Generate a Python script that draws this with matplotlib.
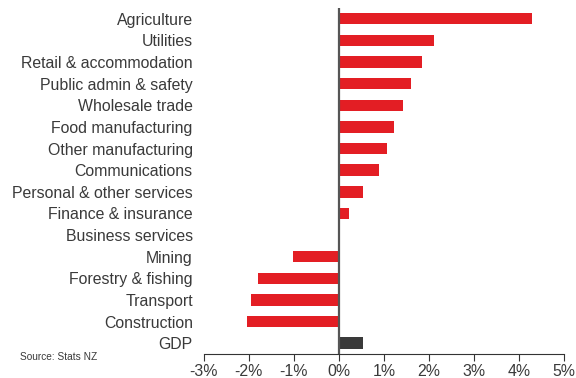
import matplotlib.pyplot as plt

# Data (annual % change by industry)
industries = ['Agriculture', 'Utilities', 'Retail & accommodation',
              'Public admin & safety', 'Wholesale trade', 'Food manufacturing',
              'Other manufacturing', 'Communications', 'Personal & other services',
              'Finance & insurance', 'Business services', 'Mining',
              'Forestry & fishing', 'Transport', 'Construction', 'GDP']
growth = [4.30, 2.12, 1.84, 1.61, 1.43, 1.23, 1.06, 0.88, 0.53, 0.23,
          0.03, -1.01, -1.80, -1.96, -2.05, 0.53]
xticks = [-3, -2, -1, 0, 1, 2, 3, 4, 5]

plt.rcParams['font.family'] = ['Liberation Sans', 'DejaVu Sans']

fig = plt.figure(figsize=(5.76, 3.78), dpi=100)
ax = fig.add_axes([0.354, 0.0635, 0.625, 0.9155])

colors = ['#e31e24'] * (len(industries) - 1) + ['#3a3a3a']
ypos = list(range(len(industries)))
ax.barh(ypos, growth, height=0.53, color=colors)

ax.set_ylim(len(industries) - 0.5, -0.5)
ax.set_xlim(-3, 5)
ax.axvline(0, color='#555555', linewidth=1.6)

ax.set_yticks(ypos)
ax.set_yticklabels(industries, fontsize=11.4, color='#3a3a3a')
ax.tick_params(axis='y', length=0, pad=8)

ax.set_xticks(xticks)
ax.set_xticklabels([f'{t}%' for t in xticks], fontsize=11.4, color='#3a3a3a')
ax.tick_params(axis='x', direction='out', length=5, width=0.8, color='#333333', pad=2)

for side in ['top', 'right', 'left']:
    ax.spines[side].set_visible(False)
ax.spines['bottom'].set_color('#333333')
ax.spines['bottom'].set_linewidth(0.8)

fig.text(0.035, 0.048, 'Source: Stats NZ', fontsize=7.3, color='#3a3a3a')

plt.savefig('out.png')
